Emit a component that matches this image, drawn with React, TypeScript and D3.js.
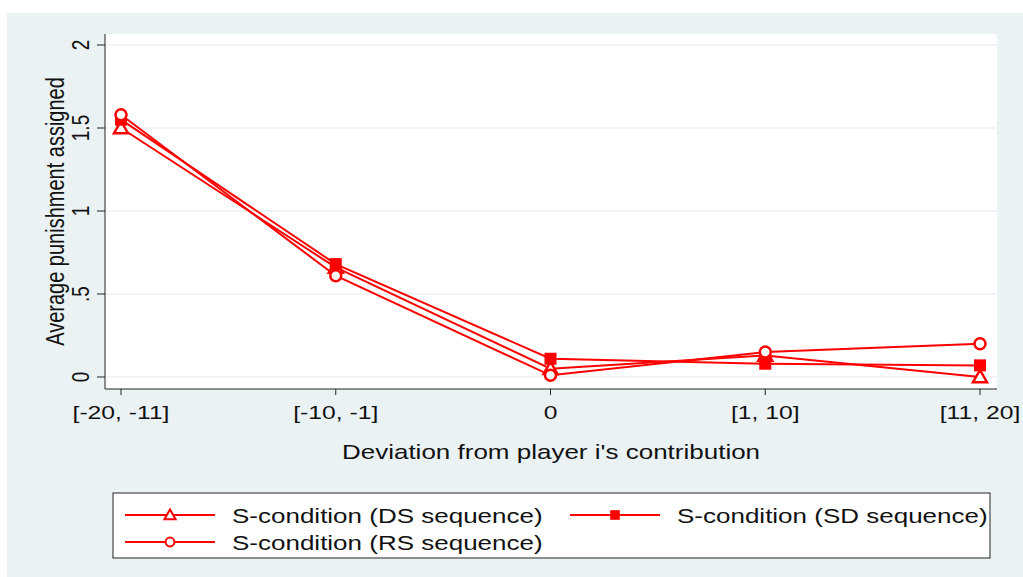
import React from "react";
import * as d3 from "d3";

const categories = ["[-20, -11]", "[-10, -1]", "0", "[1, 10]", "[11, 20]"];
const dsValues = [1.5, 0.66, 0.05, 0.13, 0.0];
const sdValues = [1.55, 0.68, 0.11, 0.08, 0.07];
const rsValues = [1.58, 0.61, 0.01, 0.15, 0.2];
const yTicks = [0, 0.5, 1, 1.5, 2];
const yTickLabels = ["0", ".5", "1", "1.5", "2"];
const seriesNames = ["S-condition (DS sequence)", "S-condition (SD sequence)", "S-condition (RS sequence)"];

const W = 1023, H = 577;
const RED = "#ff0000";
const FONT = "Liberation Sans, Arial, sans-serif";
const SX = 1.3;

function Marker({ kind, x, y }: { kind: string; x: number; y: number }) {
  if (kind === "tri") {
    const s = 7;
    return <path d={`M${x},${y - s} L${x + s},${y + s * 0.75} L${x - s},${y + s * 0.75} Z`} fill="white" stroke={RED} strokeWidth={2.5} />;
  }
  if (kind === "sq") {
    return <rect x={x - 6} y={y - 6} width={12} height={12} fill={RED} />;
  }
  return <circle cx={x} cy={y} r={5.5} fill="white" stroke={RED} strokeWidth={2.5} />;
}

function HText({ x, y, anchor, size, children }: { x: number; y: number; anchor: string; size: number; children: any }) {
  return (
    <text transform={`translate(${x},${y}) scale(${SX},1)`} textAnchor={anchor} fontSize={size} fill="#111">
      {children}
    </text>
  );
}

function VText({ x, y, size, children }: { x: number; y: number; size: number; children: any }) {
  return (
    <text transform={`translate(${x},${y}) scale(${SX},1) rotate(-90)`} textAnchor="middle" fontSize={size} fill="#111">
      {children}
    </text>
  );
}

export default function App() {
  const plotL = 105, plotR = 997, plotT = 34, plotB = 389;
  const x = d3.scalePoint<string>().domain(categories).range([121, 980]);
  const y = d3.scaleLinear().domain([0, 2]).range([377, 45]);
  const line = d3.line<number>().x((_, i) => x(categories[i])!).y((d) => y(d));
  const series = [
    { vals: dsValues, kind: "tri" },
    { vals: sdValues, kind: "sq" },
    { vals: rsValues, kind: "circ" },
  ];
  const legendItems = [
    { name: seriesNames[0], kind: "tri", lx: 125, ty: 516 },
    { name: seriesNames[1], kind: "sq", lx: 570, ty: 516 },
    { name: seriesNames[2], kind: "circ", lx: 125, ty: 543 },
  ];
  return (
    <svg width={W} height={H} style={{ position: "absolute", left: 0, top: 0 }} fontFamily={FONT}>
      <rect x={0} y={0} width={W} height={H} fill="white" />
      <rect x={7} y={13} width={W - 7} height={H - 13} fill="#eaf2f3" />
      <rect x={plotL} y={plotT} width={plotR - plotL} height={plotB - plotT} fill="white" />
      {yTicks.map((t) => (
        <line key={"g" + t} x1={plotL} x2={plotR} y1={y(t)} y2={y(t)} stroke="#eaf2f3" strokeWidth={1.5} />
      ))}
      <line x1={plotL} x2={plotL} y1={plotT} y2={plotB} stroke="#222" strokeWidth={1} />
      <line x1={plotL} x2={plotR} y1={plotB} y2={plotB} stroke="#222" strokeWidth={1} />
      {yTicks.map((t, i) => (
        <g key={"yt" + t}>
          <line x1={plotL - 8} x2={plotL} y1={y(t)} y2={y(t)} stroke="#222" />
          <VText x={plotL - 16} y={y(t)} size={19}>
            {yTickLabels[i]}
          </VText>
        </g>
      ))}
      {categories.map((c) => (
        <g key={"xt" + c}>
          <line x1={x(c)!} x2={x(c)!} y1={plotB} y2={plotB + 6} stroke="#222" />
          <HText x={x(c)!} y={plotB + 30} anchor="middle" size={19}>
            {c}
          </HText>
        </g>
      ))}
      <VText x={64} y={(plotT + plotB) / 2} size={20}>
        Average punishment assigned
      </VText>
      <HText x={551} y={459} anchor="middle" size={20}>
        Deviation from player i's contribution
      </HText>
      {series.map((s, si) => (
        <g key={"s" + si}>
          <path d={line(s.vals)!} fill="none" stroke={RED} strokeWidth={2} />
          {s.vals.map((v, i) => (
            <Marker key={i} kind={s.kind} x={x(categories[i])!} y={y(v)} />
          ))}
        </g>
      ))}
      <rect x={113} y={493} width={877} height={65} fill="white" stroke="#222" strokeWidth={1} />
      {legendItems.map((it) => (
        <g key={it.name}>
          <line x1={it.lx} x2={it.lx + 90} y1={it.ty - 1} y2={it.ty - 1} stroke={RED} strokeWidth={2} />
          <g transform={`translate(${it.lx + 45},${it.ty - 1}) scale(0.8) translate(${-(it.lx + 45)},${-(it.ty - 1)})`}>
            <Marker kind={it.kind} x={it.lx + 45} y={it.ty - 1} />
          </g>
          <HText x={it.lx + 107} y={it.ty + 7} anchor="start" size={20}>
            {it.name}
          </HText>
        </g>
      ))}
    </svg>
  );
}
